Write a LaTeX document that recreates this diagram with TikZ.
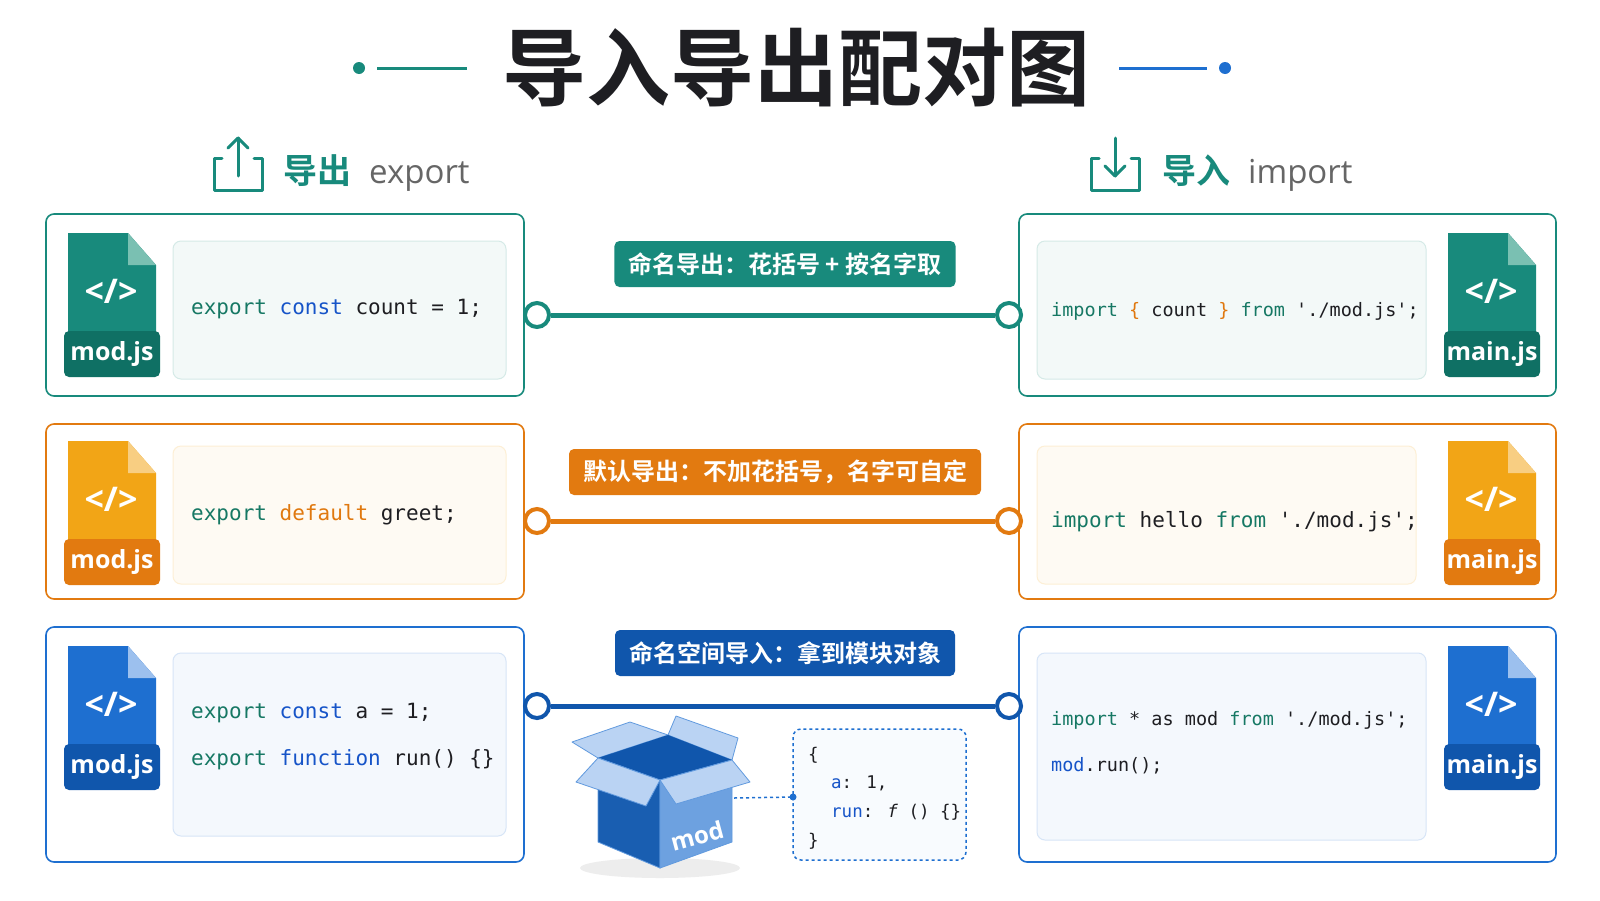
\documentclass[tikz,border=0pt]{standalone}
\usepackage{fontspec}
\setmainfont{Open Sans}
\newfontfamily\cjk{Noto Sans CJK SC}[BoldFont=* Bold]
\newfontfamily\code{DejaVu Sans Mono}
\usetikzlibrary{calc}

\definecolor{tealc}{RGB}{24,138,124}
\definecolor{tealdk}{RGB}{15,112,100}
\definecolor{tealfd}{RGB}{122,192,178}
\definecolor{orgc}{RGB}{242,165,22}
\definecolor{orgdk}{RGB}{226,122,16}
\definecolor{orgfd}{RGB}{248,206,130}
\definecolor{bluc}{RGB}{30,111,208}
\definecolor{bludk}{RGB}{16,86,172}
\definecolor{blufd}{RGB}{156,192,238}
\definecolor{kwteal}{RGB}{22,120,100}
\definecolor{kwblue}{RGB}{22,84,200}
\definecolor{kworg}{RGB}{224,120,14}
\definecolor{ink}{RGB}{30,30,34}

\tikzset{
  outer/.style={draw=#1, line width=1.6pt, rounded corners=8pt, fill=white},
  panel/.style={draw=#1!18, line width=1pt, rounded corners=8pt, fill=#1!5},
  pill/.style={fill=#1, rounded corners=5pt, text=white, font=\cjk\bfseries\fontsize{24}{24}\selectfont,
    minimum height=46pt, inner xsep=14pt},
  pin/.style={circle, draw=#1, line width=4pt, fill=white, minimum size=24pt, inner sep=0pt},
  wire/.style={draw=#1, line width=5pt},
  code/.style={anchor=west, text=ink, font=\code\fontsize{21}{21}\selectfont, inner sep=0pt},
  codes/.style={anchor=west, text=ink, font=\code\fontsize{18.5}{18.5}\selectfont, inner sep=0pt},
  obj/.style={anchor=west, text=ink, font=\code\fontsize{17.5}{17.5}\selectfont, inner sep=0pt},
  head/.style={anchor=west, inner sep=0pt},
  flap/.style={fill=blufd!70!white, draw=bluc!70, line width=0.8pt, line join=round},
}

% file icon: x, y(top), body, dark, fold, label, name
\newcommand\fileicon[7]{%
  \fill[#3] (#1+4,#2) -- (#1+64,#2) -- (#1+92,#2+32) -- (#1+92,#2+100) -- (#1+4,#2+100) -- cycle;
  \fill[#5] (#1+64,#2) -- (#1+92,#2+32) -- (#1+64,#2+32) -- cycle;
  \fill[#4, rounded corners=5pt] (#1,#2+98) rectangle (#1+96,#2+144);
  \node[text=white, font=\bfseries\fontsize{34}{34}\selectfont] (#7g) at (#1+47,#2+58) {</>};
  \node[text=white, font=\bfseries\fontsize{25}{25}\selectfont] (#7l) at (#1+48,#2+121) {#6};
}

\begin{document}
\begin{tikzpicture}[x=1pt, y=-1pt]
\useasboundingbox[fill=white] (0,0) rectangle (1600,900);

% title
\node[font=\cjk\bfseries\fontsize{84}{84}\selectfont, text=ink] (title) at (796,68) {导入导出配对图};
\fill[tealc] (359,68) circle (6pt);
\draw[tealc, line width=3pt] (377,68) -- (467,68);
\draw[bluc, line width=3pt] (1119,68) -- (1207,68);
\fill[bluc] (1225,68) circle (6pt);

% headers
\draw[tealc, line width=3pt, line cap=round, line join=round]
  (222,158) -- (214,158) -- (214,190) -- (262,190) -- (262,158) -- (254,158);
\draw[tealc, line width=3pt, line cap=round] (238,176) -- (238,138);
\draw[tealc, line width=3pt, line cap=round, line join=round] (228,148) -- (238,138) -- (248,148);
\node[head] (hexp) at (283,173) {{\cjk\bfseries\fontsize{34}{34}\selectfont\color{tealc}导出}\hspace{18pt}{\fontsize{33}{33}\selectfont\color{black!60}export}};
\draw[tealc, line width=3pt, line cap=round, line join=round]
  (1099,158) -- (1091,158) -- (1091,190) -- (1139,190) -- (1139,158) -- (1131,158);
\draw[tealc, line width=3pt, line cap=round] (1115,138) -- (1115,176);
\draw[tealc, line width=3pt, line cap=round, line join=round] (1105,166) -- (1115,176) -- (1125,166);
\node[head] (himp) at (1162,173) {{\cjk\bfseries\fontsize{34}{34}\selectfont\color{tealc}导入}\hspace{18pt}{\fontsize{33}{33}\selectfont\color{black!60}import}};

% row 1: named export
\draw[outer=tealc] (46,214) rectangle (524,396);
\draw[outer=tealc] (1019,214) rectangle (1556,396);
\draw[panel=tealc] (173,241) rectangle (506,379);
\draw[panel=tealc] (1037,241) rectangle (1426,379);
\fileicon{64}{233}{tealc}{tealdk}{tealfd}{mod.js}{fa}
\fileicon{1444}{233}{tealc}{tealdk}{tealfd}{main.js}{fb}
\node[code] (ca) at (191,309) {\color{kwteal}export \color{kwblue}const \color{ink}count = 1;};
\node[codes] (cb) at (1051,311) {\color{kwteal}import \color{kworg}\{ \color{ink}count \color{kworg}\} \color{kwteal}from \color{ink}'./mod.js';};
\node[pin=tealc] (la) at (537,315) {};
\node[pin=tealc] (ra) at (1009,315) {};
\draw[wire=tealc] (la) -- (ra);
\node[pill=tealc] (pa) at (785,264) {命名导出：花括号 + 按名字取};

% row 2: default export
\draw[outer=orgdk] (46,424) rectangle (524,599);
\draw[outer=orgdk] (1019,424) rectangle (1556,599);
\draw[panel=orgc] (173,446) rectangle (506,584);
\draw[panel=orgc] (1037,446) rectangle (1416,584);
\fileicon{64}{441}{orgc}{orgdk}{orgfd}{mod.js}{fc}
\fileicon{1444}{441}{orgc}{orgdk}{orgfd}{main.js}{fd}
\node[code] (cc) at (191,515) {\color{kwteal}export \color{kworg}default \color{ink}greet;};
\node[code] (cd) at (1051,522) {\color{kwteal}import \color{ink}hello \color{kwteal}from \color{ink}'./mod.js';};
\node[pin=orgdk] (lb) at (537,521) {};
\node[pin=orgdk] (rb) at (1009,521) {};
\draw[wire=orgdk] (lb) -- (rb);
\node[pill=orgdk] (pb) at (775,472) {默认导出：不加花括号，名字可自定};

% row 3: namespace import
\draw[outer=bluc] (46,627) rectangle (524,862);
\draw[outer=bluc] (1019,627) rectangle (1556,862);
\draw[panel=bluc] (173,653) rectangle (506,836);
\draw[panel=bluc] (1037,653) rectangle (1426,840);
\fileicon{64}{646}{bluc}{bludk}{blufd}{mod.js}{fe}
\fileicon{1444}{646}{bluc}{bludk}{blufd}{main.js}{ff}
\node[code] (ce) at (191,713) {\color{kwteal}export \color{kwblue}const \color{ink}a = 1;};
\node[code] (cf) at (191,760) {\color{kwteal}export \color{kwblue}function \color{ink}run() \{\}};
\node[codes] (cg) at (1051,720) {\color{kwteal}import \color{ink}* as mod \color{kwteal}from \color{ink}'./mod.js';};
\node[codes] (ch) at (1051,766) {\color{kwblue}mod\color{ink}.run();};
\node[pin=bludk] (lc) at (537,706) {};
\node[pin=bludk] (rc) at (1009,706) {};
\draw[wire=bludk] (lc) -- (rc);
\node[pill=bludk] (pc) at (785,653) {命名空间导入：拿到模块对象};

% box
\fill[black!7] (660,868) ellipse (80pt and 10pt);
\draw[flap] (598,758) -- (668,735) -- (630,722) -- (572,742) -- cycle;
\draw[flap] (668,735) -- (732,760) -- (738,738) -- (676,716) -- cycle;
\fill[bludk] (598,758) -- (660,780) -- (732,760) -- (668,735) -- cycle;
\fill[bluc!85!black, draw=bluc!70, line width=0.8pt] (598,758) -- (660,780) -- (660,868) -- (598,842) -- cycle;
\fill[bluc!65!white, draw=bluc!70, line width=0.8pt] (660,780) -- (732,760) -- (732,842) -- (660,868) -- cycle;
\draw[flap] (598,758) -- (660,780) -- (646,806) -- (576,782) -- cycle;
\draw[flap] (660,780) -- (732,760) -- (750,782) -- (676,804) -- cycle;
\node[text=white, font=\bfseries\fontsize{24}{24}\selectfont, rotate=15] (bx) at (697,836) {mod};
\coordinate (bxr) at (734,798);

% object
\draw[bluc, dashed, line width=1.5pt, rounded corners=8pt, fill=bluc!3] (793,729) rectangle (966,860);
\node[obj] (oa) at (808,755) {\{};
\node[obj] (ob) at (831,783) {\color{kwblue}a\color{ink}: 1,};
\node[obj] (oc) at (831,812) {\color{kwblue}run\color{ink}: \textit{f} () \{\}};
\node[obj] (od) at (808,841) {\}};
\coordinate (objl) at (793,797);
\draw[bluc, dashed, line width=1.5pt] (bxr) -- (objl);
\fill[bluc] (objl) circle (3.5pt);
\end{tikzpicture}
\end{document}
